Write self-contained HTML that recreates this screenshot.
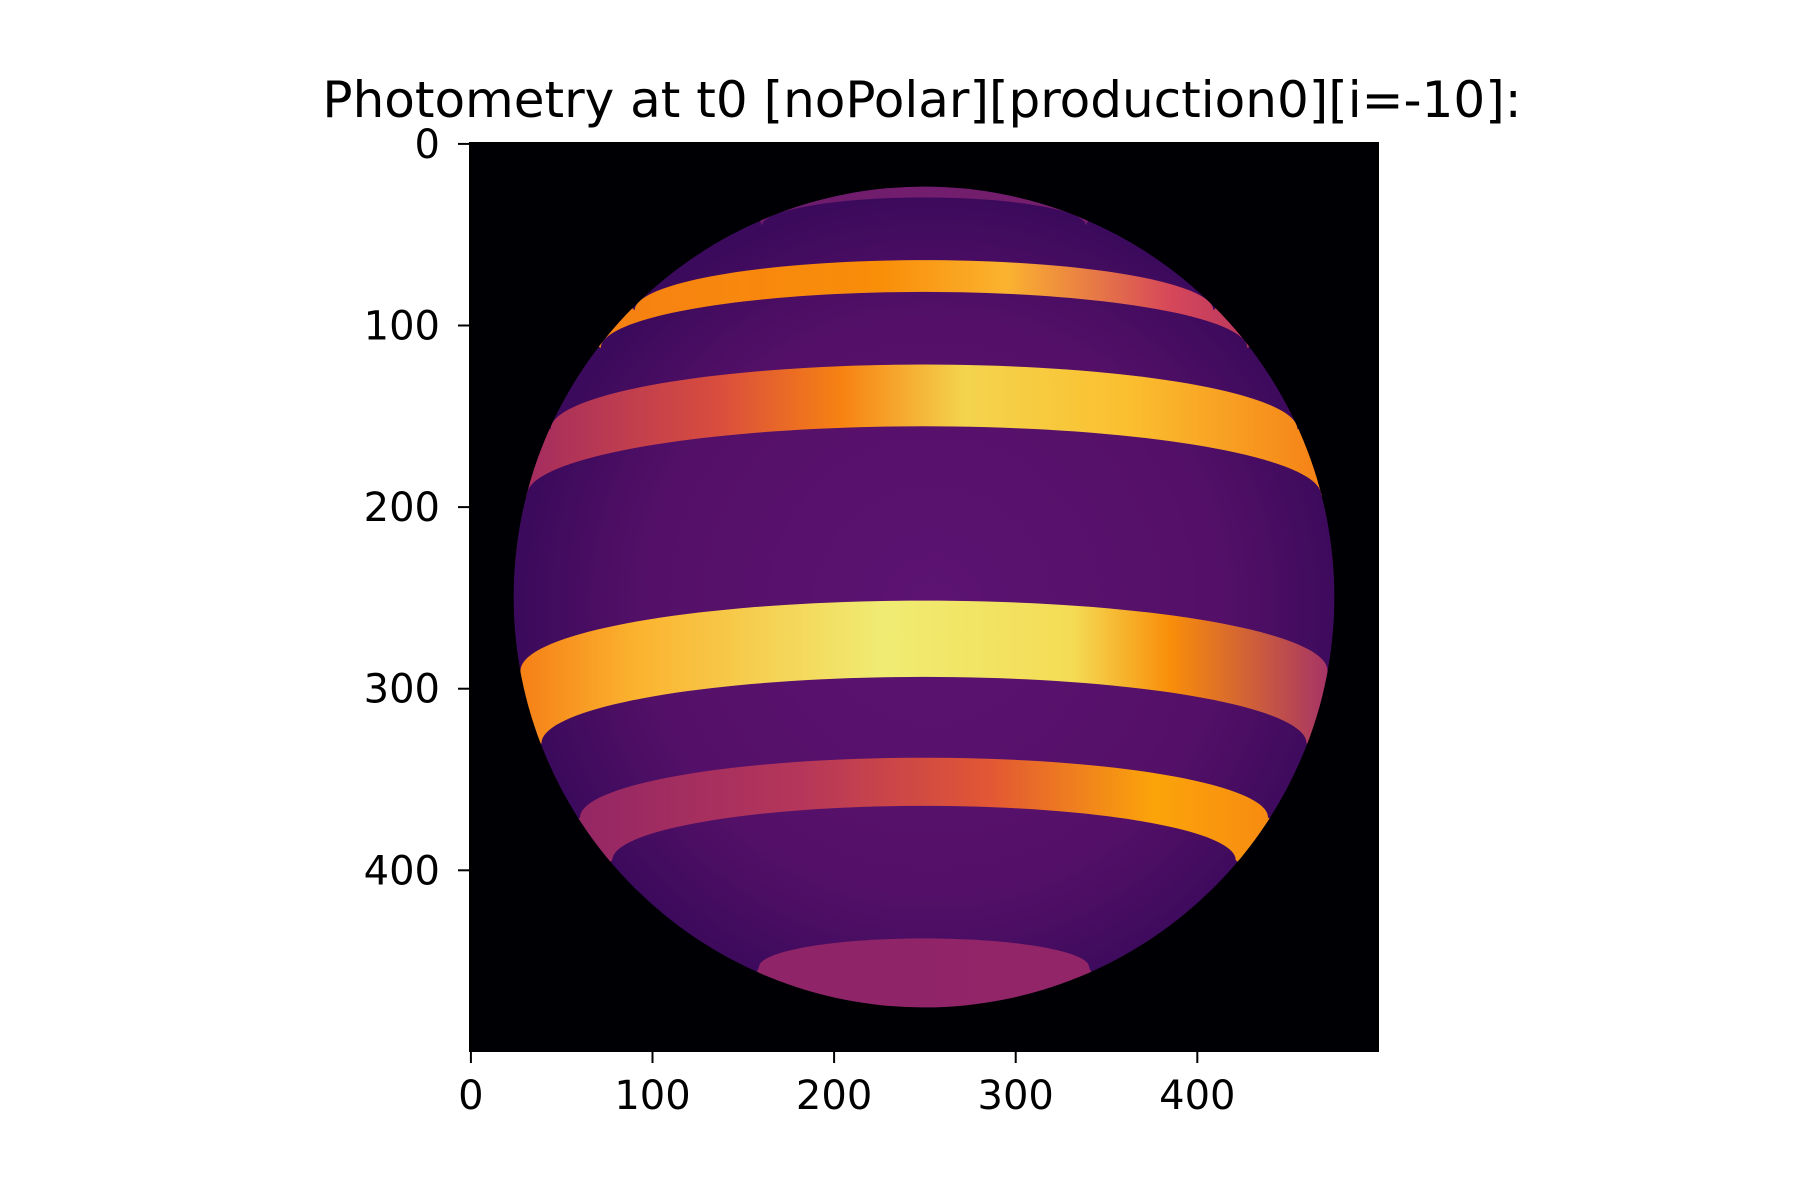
<!DOCTYPE html>
<html><head><meta charset="utf-8"><style>
html,body{margin:0;padding:0;background:#fff;}
svg{display:block;font-family:"DejaVu Sans","Liberation Sans",sans-serif;}
</style></head><body>
<svg id="chart" width="1800" height="1200" viewBox="0 0 1800 1200" xmlns="http://www.w3.org/2000/svg">
<defs>
  <clipPath id="diskClip"><circle id="clipCircle" cx="250" cy="250" r="226"/></clipPath>
  <radialGradient id="diskGrad" gradientUnits="userSpaceOnUse" cx="255" cy="255" r="226">
    <stop offset="0" stop-color="#5c1372"/>
    <stop offset="0.7" stop-color="#541068"/>
    <stop offset="1" stop-color="#3c0a5c"/>
  </radialGradient>
</defs>
<text x="922" y="117" font-size="50" text-anchor="middle" fill="#000">Photometry at t0 [noPolar][production0][i=-10]:</text>
<g id="plot" transform="translate(470,143) scale(1.816)">
  <rect x="-0.5" y="-0.5" width="500" height="500" fill="#000004"/>
  <g id="planet" clip-path="url(#diskClip)">
    <circle cx="250" cy="250" r="226" fill="url(#diskGrad)"/>
  </g>
</g>
<g id="axes"></g>
</svg>
<script>
const xTicks = [0, 100, 200, 300, 400];
const yTicks = [0, 100, 200, 300, 400];
// band boundaries as front-center image rows (top, bottom); null = pole cap
const bandTop = [null, 64.5, 122, 252, 338.5, 438];
const bandBottom = [30, 82, 156, 294, 365, null];
const bandStops = [
  [[0,'#6a1a6e'],[1,'#7a206c']],
  [[0,'#f57d15'],[0.45,'#f98e09'],[0.6,'#fbb32f'],[0.8,'#d6475a'],[1,'#9c2764']],
  [[0,'#a02a62'],[0.25,'#d94d3e'],[0.4,'#f78212'],[0.55,'#f4d44d'],[0.75,'#fbbf2f'],[1,'#f57d15']],
  [[0,'#f57d15'],[0.15,'#fbb32f'],[0.45,'#f0ec73'],[0.68,'#f4dc55'],[0.8,'#f98e09'],[1,'#a3306a']],
  [[0,'#8a2268'],[0.35,'#b5365a'],[0.58,'#e25734'],[0.78,'#fba40a'],[1,'#f57d15']],
  [[0,'#8c2369'],[1,'#952667']]
];
const CX = 250, CY = 250, R = 226, INC = 10 * Math.PI / 180;
const NS = 'http://www.w3.org/2000/svg';
const planet = document.getElementById('planet');
const defs = document.querySelector('defs');

function latFromFront(yf){
  const s = Math.max(-1, Math.min(1, (CY - yf) / R));
  return Math.asin(s) - INC;
}
function arc(phi, reverse){
  const pts = [];
  for (let k = 0; k <= 80; k++){
    const th = -Math.PI/2 + Math.PI * k / 80;
    const x = CX + R * Math.cos(phi) * Math.sin(th);
    const y = CY - R * Math.sin(phi) * Math.cos(INC) - R * Math.cos(phi) * Math.sin(INC) * Math.cos(th);
    pts.push([x, y]);
  }
  return reverse ? pts.reverse() : pts;
}
function limb(p1, p2){
  const a1 = Math.atan2(p1[1] - CY, p1[0] - CX);
  let a2 = Math.atan2(p2[1] - CY, p2[0] - CX);
  let d = a2 - a1;
  while (d > Math.PI) d -= 2 * Math.PI;
  while (d <= -Math.PI) d += 2 * Math.PI;
  const out = [];
  for (let k = 0; k <= 20; k++){
    const a = a1 + d * k / 20;
    out.push([CX + (R + 10) * Math.cos(a), CY + (R + 10) * Math.sin(a)]);
  }
  return out;
}
for (let b = 0; b < bandTop.length; b++){
  const g = document.createElementNS(NS, 'linearGradient');
  g.setAttribute('id', 'bg' + b);
  g.setAttribute('gradientUnits', 'userSpaceOnUse');
  g.setAttribute('x1', CX - R); g.setAttribute('x2', CX + R);
  g.setAttribute('y1', 0); g.setAttribute('y2', 0);
  bandStops[b].forEach(s => {
    const st = document.createElementNS(NS, 'stop');
    st.setAttribute('offset', s[0]); st.setAttribute('stop-color', s[1]);
    g.appendChild(st);
  });
  defs.appendChild(g);
  let pts = [];
  if (bandTop[b] === null){
    const lo = arc(latFromFront(bandBottom[b]), true);
    pts = pts.concat(limb(lo[lo.length-1], lo[0]));
    pts = pts.concat(lo);
  } else if (bandBottom[b] === null){
    const up = arc(latFromFront(bandTop[b]), false);
    pts = pts.concat(up);
    pts = pts.concat(limb(up[up.length-1], up[0]));
  } else {
    const up = arc(latFromFront(bandTop[b]), false);
    const lo = arc(latFromFront(bandBottom[b]), true);
    pts = pts.concat(up);
    pts = pts.concat(limb(up[up.length-1], lo[0]));
    pts = pts.concat(lo);
    pts = pts.concat(limb(lo[lo.length-1], up[0]));
  }
  const p = document.createElementNS(NS, 'polygon');
  p.setAttribute('points', pts.map(q => q[0].toFixed(2) + ',' + q[1].toFixed(2)).join(' '));
  p.setAttribute('fill', 'url(#bg' + b + ')');
  
  
  planet.appendChild(p);
}
const X0 = 470, Y0 = 143, S = 1.816;
const sx = v => X0 + (v + 0.5) * S;
const sy = v => Y0 + (v + 0.5) * S;
const axes = document.getElementById('axes');
function el(tag, attrs){ const e = document.createElementNS(NS, tag); for (const k in attrs) e.setAttribute(k, attrs[k]); axes.appendChild(e); return e; }
const spine = el('rect', {x: X0, y: Y0, width: 908, height: 908, fill: 'none', stroke: '#000', 'stroke-width': 2});


xTicks.forEach(v => {
  const t = el('line', {x1: sx(v), x2: sx(v), y1: Y0 + 908, y2: Y0 + 920, stroke: '#000', 'stroke-width': 2});
  
  
  const l = el('text', {x: sx(v), y: Y0 + 966, 'font-size': 40, 'text-anchor': 'middle', fill: '#000'});
  l.textContent = v;
  
  
});
yTicks.forEach(v => {
  const t = el('line', {x1: X0 - 12, x2: X0, y1: sy(v), y2: sy(v), stroke: '#000', 'stroke-width': 2});
  
  
  const l = el('text', {x: X0 - 30, y: sy(v) + 14, 'font-size': 40, 'text-anchor': 'end', fill: '#000'});
  l.textContent = v;
  
  
});
</script>
</body></html>
